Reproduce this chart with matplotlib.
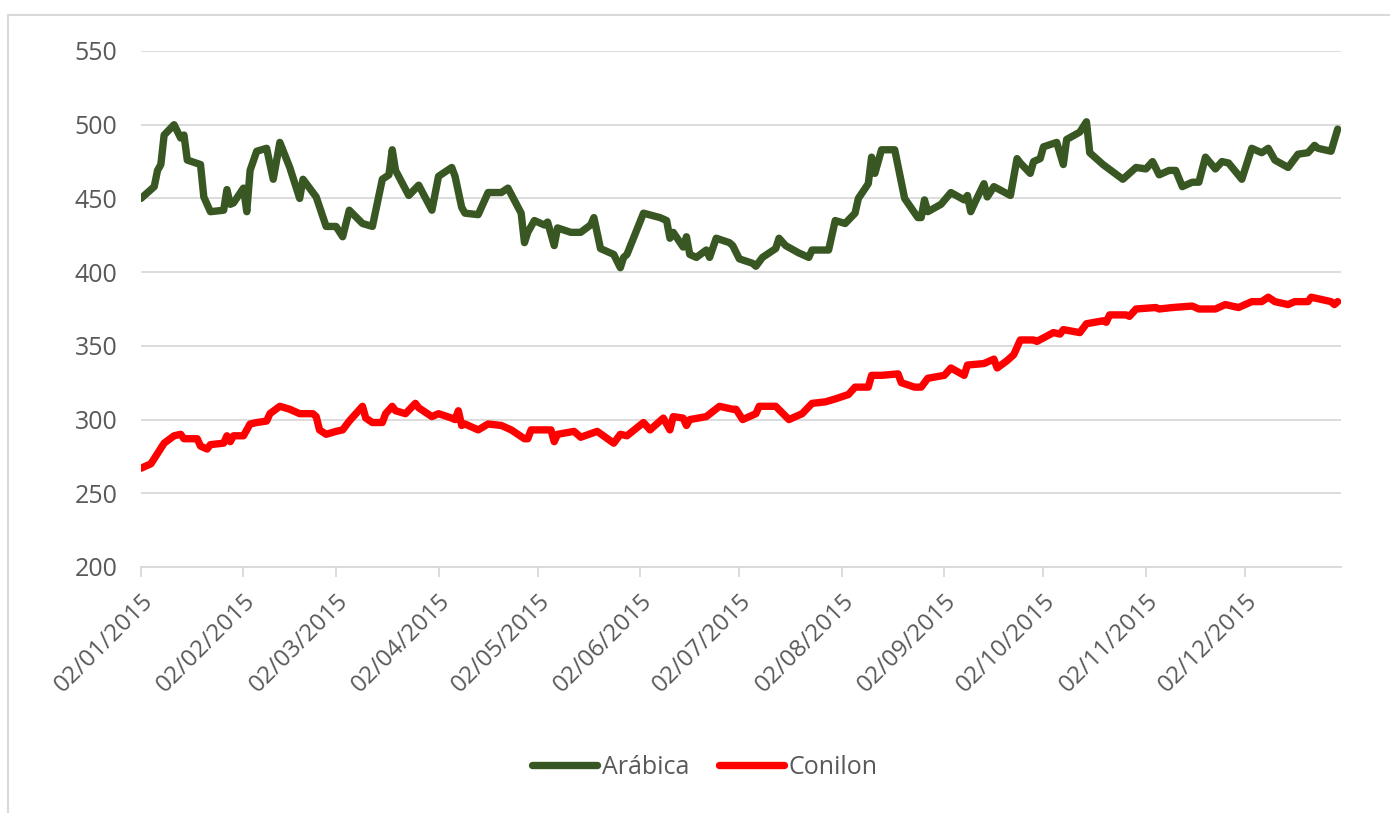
import matplotlib
matplotlib.use("Agg")
import matplotlib.pyplot as plt
import matplotlib.dates as mdates
import numpy as np

plt.rcParams["font.family"] = ["Open Sans", "DejaVu Sans"]

# Arábica (dd/mm, value)
arabica_dates = [
    "02/01", "06/01", "07/01", "08/01", "09/01", "12/01", "14/01", "15/01", "16/01", "20/01",
    "21/01", "23/01", "27/01", "28/01", "29/01", "30/01", "02/02", "03/02", "04/02", "06/02",
    "09/02", "11/02", "13/02", "16/02", "19/02", "20/02", "24/02", "27/02", "02/03", "04/03",
    "06/03", "10/03", "13/03", "16/03", "18/03", "19/03", "20/03", "24/03", "27/03", "31/03",
    "02/04", "06/04", "07/04", "09/04", "10/04", "14/04", "17/04", "21/04", "23/04", "27/04",
    "28/04", "29/04", "01/05", "04/05", "05/05", "07/05", "08/05", "12/05", "15/05", "18/05",
    "19/05", "21/05", "25/05", "27/05", "28/05", "29/05", "03/06", "08/06", "10/06", "11/06",
    "12/06", "15/06", "16/06", "17/06", "19/06", "22/06", "23/06", "25/06", "29/06", "30/06",
    "02/07", "06/07", "07/07", "09/07", "13/07", "14/07", "16/07", "20/07", "23/07", "24/07",
    "29/07", "31/07", "03/08", "06/08", "07/08", "10/08", "11/08", "12/08", "13/08", "14/08",
    "18/08", "20/08", "21/08", "25/08", "26/08", "27/08", "28/08", "01/09", "04/09", "08/09",
    "09/09", "10/09", "11/09", "14/09", "15/09", "17/09", "22/09", "24/09", "25/09", "28/09",
    "29/09", "01/10", "02/10", "06/10", "08/10", "09/10", "13/10", "15/10", "16/10", "20/10",
    "23/10", "26/10", "30/10", "02/11", "04/11", "06/11", "09/11", "11/11", "13/11", "16/11",
    "18/11", "20/11", "23/11", "25/11", "27/11", "01/12", "04/12", "07/12", "09/12", "11/12",
    "15/12", "18/12", "21/12", "23/12", "24/12", "28/12", "30/12",
]
arabica = [
    450, 458, 469, 473, 493, 500, 491, 493, 476, 473,
    451, 441, 442, 456, 446, 447, 457, 441, 469, 482,
    484, 463, 488, 471, 450, 463, 451, 431, 431, 424,
    442, 433, 431, 463, 466, 483, 469, 452, 459, 442,
    465, 471, 465, 444, 440, 439, 454, 454, 457, 440,
    420, 427, 435, 432, 434, 418, 430, 427, 427, 432,
    437, 416, 412, 403, 410, 412, 440, 437, 435, 423,
    427, 417, 424, 412, 410, 415, 410, 423, 420, 418,
    409, 406, 404, 410, 416, 423, 418, 413, 410, 415,
    415, 435, 433, 440, 450, 460, 478, 467, 475, 483,
    483, 461, 450, 437, 437, 449, 441, 446, 454, 449,
    452, 441, 446, 460, 451, 458, 452, 477, 474, 467,
    475, 477, 485, 488, 473, 490, 495, 502, 481, 473,
    468, 463, 471, 470, 475, 466, 469, 469, 458, 461,
    461, 478, 470, 475, 474, 463, 484, 481, 484, 476,
    471, 480, 481, 486, 484, 482, 497,
]

# Conilon (dd/mm, value)
conilon_dates = [
    "02/01", "05/01", "07/01", "09/01", "12/01", "14/01", "15/01", "19/01", "20/01", "22/01",
    "23/01", "27/01", "28/01", "29/01", "30/01", "02/02", "04/02", "06/02", "09/02", "10/02",
    "13/02", "16/02", "19/02", "23/02", "24/02", "25/02", "27/02", "02/03", "04/03", "06/03",
    "10/03", "11/03", "13/03", "16/03", "17/03", "19/03", "20/03", "23/03", "26/03", "27/03",
    "31/03", "02/04", "06/04", "07/04", "08/04", "09/04", "10/04", "14/04", "17/04", "21/04",
    "24/04", "28/04", "29/04", "30/04", "06/05", "07/05", "08/05", "13/05", "15/05", "20/05",
    "25/05", "27/05", "29/05", "03/06", "05/06", "09/06", "11/06", "12/06", "15/06", "16/06",
    "17/06", "22/06", "26/06", "30/06", "01/07", "03/07", "07/07", "08/07", "13/07", "17/07",
    "21/07", "24/07", "28/07", "31/07", "04/08", "06/08", "10/08", "11/08", "14/08", "19/08",
    "20/08", "24/08", "26/08", "28/08", "02/09", "04/09", "08/09", "09/09", "14/09", "17/09",
    "18/09", "21/09", "23/09", "25/09", "29/09", "30/09", "05/10", "07/10", "08/10", "13/10",
    "15/10", "20/10", "21/10", "22/10", "27/10", "28/10", "30/10", "05/11", "06/11", "10/11",
    "16/11", "18/11", "23/11", "26/11", "30/11", "04/12", "07/12", "09/12", "11/12", "15/12",
    "17/12", "21/12", "22/12", "28/12", "29/12", "30/12",
]
conilon = [
    267, 270, 277, 284, 289, 290, 287, 287, 282, 280,
    283, 284, 289, 285, 289, 289, 297, 298, 299, 304,
    309, 307, 304, 304, 302, 293, 290, 292, 293, 299,
    309, 301, 298, 298, 304, 309, 306, 304, 311, 308,
    302, 304, 301, 300, 306, 296, 297, 293, 297, 296,
    293, 287, 287, 293, 293, 285, 290, 292, 288, 292,
    284, 290, 289, 298, 293, 301, 293, 302, 301, 296,
    300, 302, 309, 307, 307, 300, 304, 309, 309, 300,
    304, 311, 312, 314, 317, 322, 322, 330, 330, 331,
    325, 322, 322, 328, 330, 335, 330, 337, 338, 341,
    335, 340, 344, 354, 354, 353, 359, 358, 361, 359,
    365, 367, 366, 371, 371, 370, 375, 376, 375, 376,
    377, 375, 375, 378, 376, 380, 380, 383, 380, 378,
    380, 380, 383, 380, 378, 380,
]

tick_months = list(range(1, 13))
y_ticks = [200, 250, 300, 350, 400, 450, 500, 550]


def to_dates(days):
    return [np.datetime64(f"2015-{d[3:5]}-{d[0:2]}") for d in days]


fig = plt.figure(figsize=(13.9, 8.13), dpi=100)
ax = fig.add_axes([141 / 1390, 1 - 567 / 813, (1341 - 141) / 1390, (567 - 51) / 813])

ax.plot(to_dates(arabica_dates), arabica, color="#385723", lw=5.3,
        solid_joinstyle="round", solid_capstyle="round", label="Arábica")
ax.plot(to_dates(conilon_dates), conilon, color="#FF0000", lw=5.3,
        solid_joinstyle="round", solid_capstyle="round", label="Conilon")

ax.set_xlim(np.datetime64("2015-01-02"), np.datetime64("2015-12-31"))
ax.set_ylim(200, 550)
ax.set_yticks(y_ticks)
ax.yaxis.grid(True, color="#D9D9D9", lw=1.3)
ax.set_axisbelow(True)

ax.set_xticks([np.datetime64(f"2015-{m:02d}-02") for m in tick_months])
ax.xaxis.set_major_formatter(mdates.DateFormatter("%d/%m/%Y"))
for lab in ax.get_xticklabels():
    lab.set_rotation(45)
    lab.set_ha("right")
    lab.set_rotation_mode("anchor")

for s in ["top", "right", "left"]:
    ax.spines[s].set_visible(False)
ax.spines["bottom"].set_color("#D9D9D9")
ax.spines["bottom"].set_linewidth(1.3)
ax.tick_params(axis="x", colors="#D9D9D9", length=7, width=1.3, labelcolor="#595959",
               labelsize=17.5, pad=9)
ax.tick_params(axis="y", length=0, labelcolor="#595959", labelsize=18, pad=17)

fig.legend(loc="center", bbox_to_anchor=(0.507, 1 - 767 / 813), ncol=2, frameon=False,
           fontsize=18, handlelength=2.6, handletextpad=0.2, columnspacing=1.2,
           labelcolor="#595959")

# chart border (left and top edges visible)
fig.add_artist(plt.Line2D([8 / 1390, 8 / 1390], [0, 1 - 15 / 813], color="#D9D9D9", lw=1.5))
fig.add_artist(plt.Line2D([8 / 1390, 1], [1 - 15 / 813, 1 - 15 / 813], color="#D9D9D9", lw=1.5))

fig.savefig("out.png", dpi=100)
